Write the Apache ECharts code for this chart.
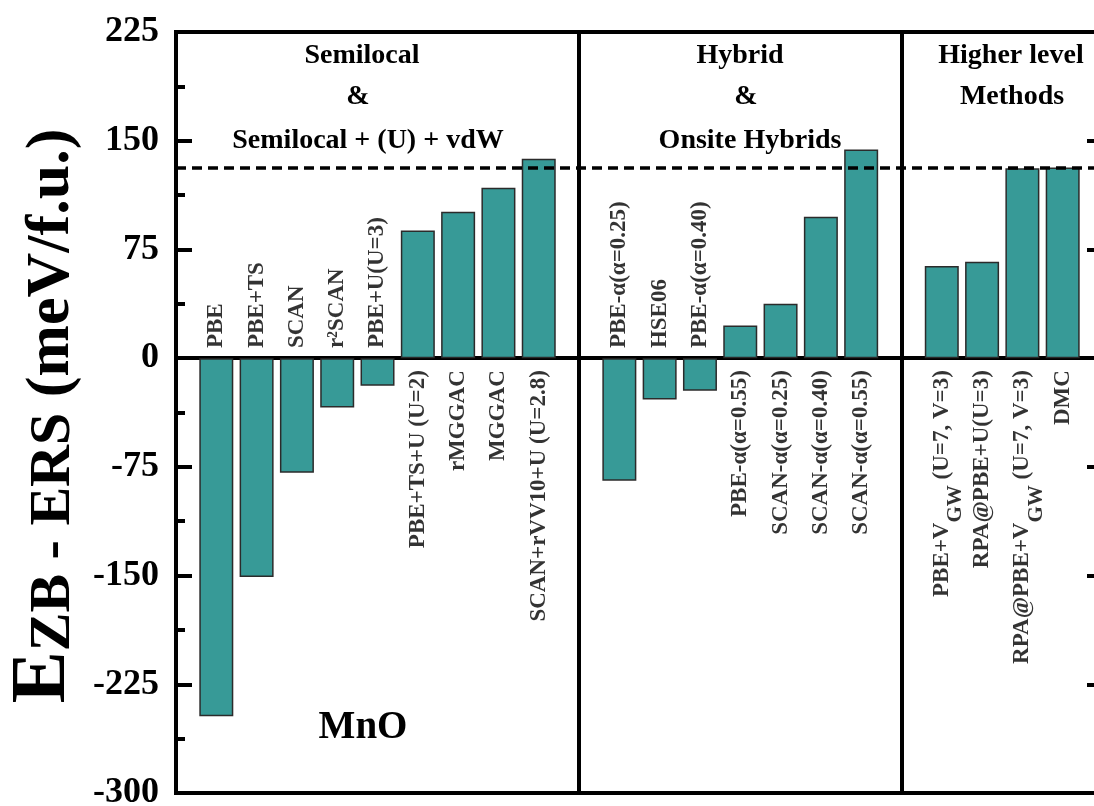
<!DOCTYPE html>
<html>
<head>
<meta charset="utf-8">
<script src="https://cdn.jsdelivr.net/npm/echarts@6/dist/echarts.min.js"></script>
<style>
html,body{margin:0;padding:0;background:#fff;}
#chart{width:1094px;height:806px;}
</style>
</head>
<body>
<div id="chart"></div>
<script>
// ---- data ----
const semilocalNames = ['PBE', 'PBE+TS', 'SCAN', 'r²SCAN', 'PBE+U(U=3)', 'PBE+TS+U (U=2)', 'rMGGAC', 'MGGAC', 'SCAN+rVV10+U (U=2.8)'];
const semilocalValues = [-247, -151, -79, -34, -19, 88, 101, 117.5, 137.5];
const hybridNames = ['PBE-α(α=0.25)', 'HSE06', 'PBE-α(α=0.40)', 'PBE-α(α=0.55)', 'SCAN-α(α=0.25)', 'SCAN-α(α=0.40)', 'SCAN-α(α=0.55)'];
const hybridValues = [-84.5, -28.5, -22.5, 22.5, 37.5, 97.5, 144];
const higherNames = ['PBE+V{sub|GW} (U=7, V=3)', 'RPA@PBE+U(U=3)', 'RPA@PBE+V{sub|GW} (U=7, V=3)', 'DMC'];
const higherValues = [63.5, 66.5, 131, 131.5];
const groupTitles = [
  ['Semilocal', '&', 'Semilocal + (U) + vdW'],
  ['Hybrid', '&', 'Onsite Hybrids'],
  ['Higher level', 'Methods']
];
const yMin = -300, yMax = 225, yStep = 75;
const referenceValue = 131.5; // dashed DMC reference line
const materialLabel = 'MnO';

// ---- build category slots (empty slot before each group) ----
const groups = [
  { names: semilocalNames, values: semilocalValues },
  { names: hybridNames, values: hybridValues },
  { names: higherNames, values: higherValues }
];
const categories = [''];
const barData = ['-'];
const separators = [];
groups.forEach(function (g, gi) {
  g.names.forEach(function (n, i) { categories.push(n); barData.push(g.values[i]); });
  if (gi < groups.length - 1) separators.push(categories.length);
  categories.push('');
  barData.push('-');
});

const serif = "'Liberation Serif', 'Times New Roman', serif";
const teal = '#379a97';

const labelData = [];
categories.forEach(function (name, i) {
  if (!name) return;
  const v = barData[i];
  const above = v < 0;
  labelData.push({
    value: [i, 0],
    name: name,
    label: above ? { position: 'top', distance: 10, align: 'left' }
                 : { position: 'bottom', distance: 12, align: 'right' }
  });
});

const chart = echarts.init(document.getElementById('chart'), null, { renderer: 'canvas' });

const markLineData = [
  { yAxis: referenceValue, lineStyle: { type: [10, 6], width: 3.5, color: '#000' } }
].concat(separators.map(function (s) {
  return { xAxis: s, lineStyle: { type: 'solid', width: 4, color: '#000' } };
}));

// group title positions
const titleCenters = [
  { xs: [362, 358, 368] },
  { xs: [740, 746, 750] },
  { xs: [1011, 1012] }
];
const titleYs = [56, 97, 141];
const graphics = [];
groupTitles.forEach(function (lines, gi) {
  lines.forEach(function (t, li) {
    graphics.push({
      type: 'text', x: titleCenters[gi].xs[li], y: titleYs[li], z: 100,
      style: { text: t, font: 'bold 28px ' + serif, fill: '#000', align: 'center', verticalAlign: 'middle' }
    });
  });
});
graphics.push({
  type: 'text', x: 363, y: 728, z: 100,
  style: { text: materialLabel, font: 'bold 39px ' + serif, fill: '#000', align: 'center', verticalAlign: 'middle' }
});
graphics.push({
  type: 'text', x: 44, y: 416, rotation: Math.PI / 2, z: 100,
  style: {
    text: '{e|E}{s|ZB}{m| - E}{s|RS}{p| (meV/f.u.)}',
    align: 'center', verticalAlign: 'middle', fill: '#000',
    rich: {
      e: { fontFamily: serif, fontWeight: 'bold', fontSize: 78, verticalAlign: 'bottom', fill: '#000' },
      s: { fontFamily: serif, fontWeight: 'bold', fontSize: 58, verticalAlign: 'bottom', fill: '#000' },
      m: { fontFamily: serif, fontWeight: 'bold', fontSize: 58, verticalAlign: 'bottom', fill: '#000' },
      p: { fontFamily: serif, fontWeight: 'bold', fontSize: 62, verticalAlign: 'bottom', fill: '#000' }
    }
  }
});

function yAxisCfg(pos, showLabel) {
  return {
    type: 'value', position: pos, min: yMin, max: yMax, interval: yStep,
    axisLine: { show: true, onZero: false, lineStyle: { color: '#000', width: 4 } },
    axisTick: { show: true, inside: true, length: 16, lineStyle: { color: '#000', width: 4 } },
    minorTick: { show: true, splitNumber: 2, length: 9, lineStyle: { color: '#000', width: 4 } },
    splitLine: { show: false },
    minorSplitLine: { show: false },
    axisLabel: {
      show: showLabel, margin: 17, color: '#000',
      fontFamily: serif, fontWeight: 'bold', fontSize: 36
    }
  };
}

const option = {
  animation: false,
  backgroundColor: '#fff',
  grid: {
    left: 176, right: -9, top: 32, bottom: 13,
    outerBoundsMode: 'none', containLabel: false,
    show: true, borderColor: '#000', borderWidth: 4
  },
  xAxis: {
    type: 'category', data: categories, boundaryGap: false,
    axisLine: { show: true, onZero: true, lineStyle: { color: '#000', width: 4 } },
    axisTick: { show: false }, axisLabel: { show: false }, splitLine: { show: false }
  },
  yAxis: [yAxisCfg('left', true), yAxisCfg('right', false)],
  graphic: graphics,
  series: [
    {
      type: 'bar', data: barData, barWidth: 34, yAxisIndex: 0,
      itemStyle: { color: teal, borderColor: '#2b2b2b', borderWidth: 1.5 },
      markLine: { silent: true, symbol: ['none', 'none'], label: { show: false }, animation: false, data: markLineData },
      z: 2
    },
    {
      type: 'scatter', data: labelData, symbolSize: 0.1, yAxisIndex: 0,
      itemStyle: { color: 'rgba(0,0,0,0)' }, z: 5, silent: true,
      label: {
        show: true, rotate: 90, verticalAlign: 'middle',
        formatter: function (p) { return p.name; },
        color: '#000', fontFamily: serif, fontWeight: 'bold', fontSize: 23,
        rich: {
          sub: { fontFamily: serif, fontWeight: 'bold', fontSize: 21, color: '#000', padding: [28, 0, 0, 0] }
        }
      }
    }
  ]
};
chart.setOption(option);
</script>
</body>
</html>
